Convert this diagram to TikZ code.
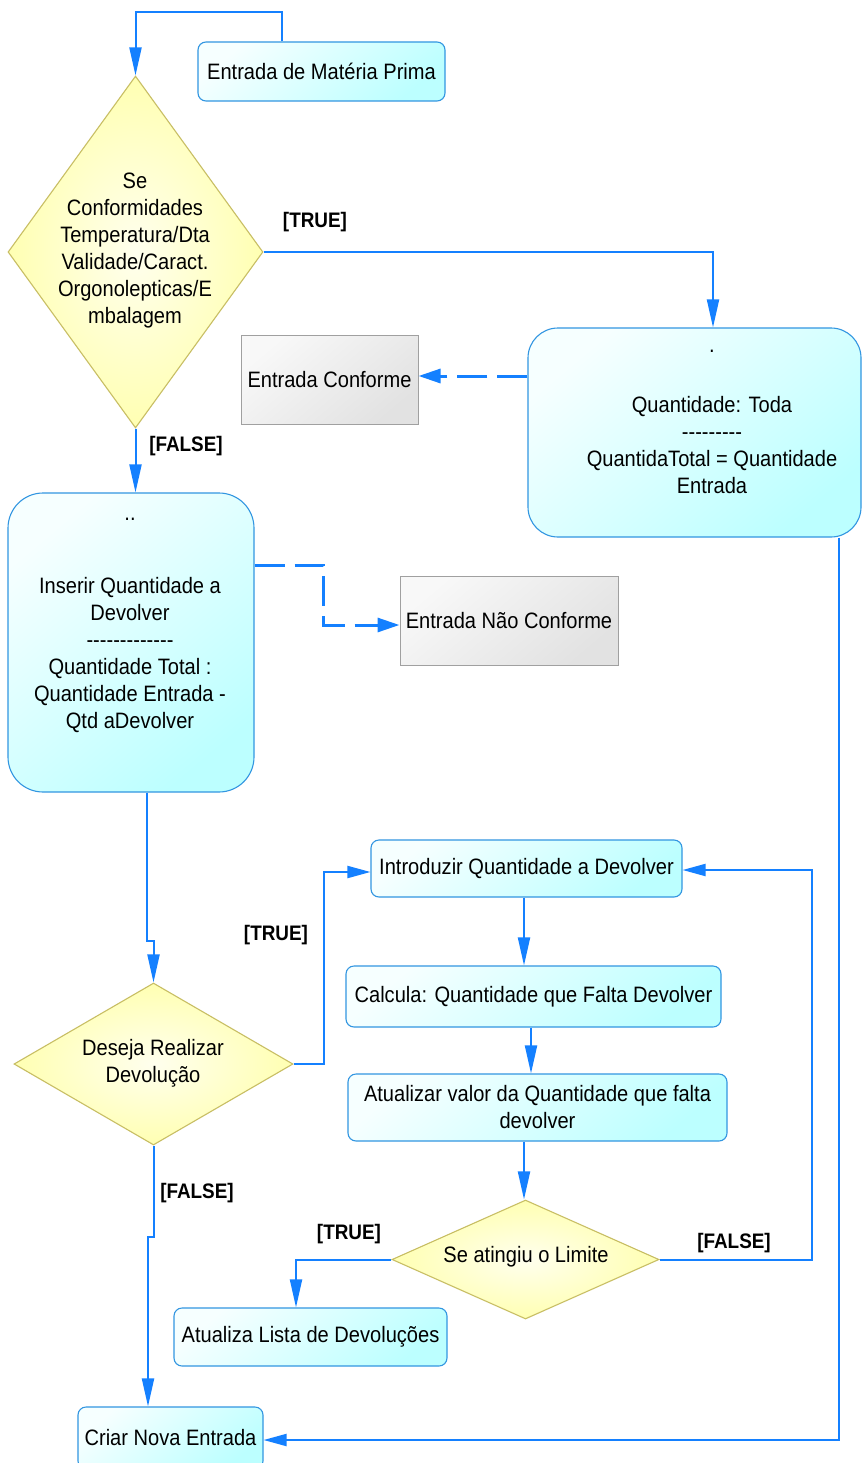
\documentclass[tikz,border=0pt]{standalone}
\usepackage{fontspec}
\setmainfont[FakeStretch=0.9]{Liberation Sans}
\usetikzlibrary{arrows.meta,shapes.geometric,calc}

\definecolor{flowblue}{RGB}{20,128,255}
\definecolor{boxline}{RGB}{50,150,225}
\definecolor{boxlight}{RGB}{246,255,255}
\definecolor{boxcyan}{RGB}{188,255,255}
\definecolor{decline}{RGB}{200,190,100}
\definecolor{decfill}{RGB}{255,255,178}
\definecolor{decin}{RGB}{255,255,238}
\definecolor{grayline}{RGB}{160,160,160}
\definecolor{graylight}{RGB}{248,248,248}
\definecolor{graydark}{RGB}{226,226,226}

\tikzset{
  actbox/.style={rectangle, rounded corners=8pt, draw=boxline, line width=1.1pt,
    top color=boxlight, bottom color=boxcyan, shading angle=40, inner sep=0pt,
    font=\fontsize{22.3}{27}\selectfont, align=center},
  graybox/.style={rectangle, draw=grayline, line width=1pt,
    top color=graylight, bottom color=graydark, shading angle=40, inner sep=0pt,
    font=\fontsize{22.3}{27}\selectfont, align=center},
  decision/.style={diamond, draw=decline, line width=1.1pt, inner color=decin,
    outer color=decfill, inner sep=0pt},
  txt/.style={inner sep=0pt, font=\fontsize{22.3}{27}\selectfont, align=center},
  lbl/.style={inner sep=0pt, font=\fontsize{21}{24}\selectfont\bfseries},
  flow/.style={draw=flowblue, line width=2pt, -{Triangle[length=28pt,width=12pt]}},
  hflow/.style={draw=flowblue, line width=2pt, -{Triangle[length=23pt,width=12pt]}},
  dflow/.style={draw=flowblue, line width=3pt, dash pattern=on 30pt off 10pt,
    -{Triangle[length=22pt,width=14pt]}},
}

\begin{document}
\begin{tikzpicture}[x=1pt,y=-1pt]
\useasboundingbox (0,0) rectangle (862,1463);
\clip (0,0) rectangle (862,1463);
\fill[white] (0,0) rectangle (862,1463);

% boxes and decisions
\node[actbox, minimum width=247pt, minimum height=59pt] (mp) at (321.5,71.5) {Entrada de Matéria Prima};

\node[decision, minimum width=255pt, minimum height=352pt] (d1) at (135.5,252) {};
\node[txt] (d1t) at (135,251) {Se\\Conformidades\\Temperatura/Dta\\Validade/Caract.\\Orgonolepticas/E\\mbalagem};

\node[actbox, rounded corners=30pt, minimum width=333pt, minimum height=209pt] (quant) at (694.5,432.5) {};
\node[txt] (quantt) at (712,422) {.\\[33pt]Quantidade: Toda\\-{}-{}-{}-{}-{}-{}-{}-{}-\\QuantidaTotal = Quantidade\\Entrada};

\node[graybox, minimum width=177pt, minimum height=89pt] (ec) at (329.5,379.5) {Entrada Conforme};

\node[actbox, rounded corners=35pt, minimum width=246pt, minimum height=299pt] (ins) at (131,642.5) {};
\node[txt] (inst) at (130,625) {..\\[46pt]Inserir Quantidade a\\Devolver\\-{}-{}-{}-{}-{}-{}-{}-{}-{}-{}-{}-{}-\\Quantidade Total :\\Quantidade Entrada -\\Qtd aDevolver};

\node[graybox, minimum width=218pt, minimum height=89pt] (enc) at (509,620.5) {Entrada Não Conforme};

\node[decision, minimum width=279pt, minimum height=162pt] (d2) at (153.5,1064) {};
\node[txt] (d2t) at (153,1063) {Deseja Realizar\\Devolução};

\node[actbox, minimum width=311pt, minimum height=57pt] (intro) at (526.5,868.5) {Introduzir Quantidade a Devolver};
\node[actbox, minimum width=375pt, minimum height=61pt] (calc) at (533.5,996.5) {Calcula: Quantidade que Falta Devolver};
\node[actbox, minimum width=379pt, minimum height=67pt] (atual) at (537.5,1107.5) {Atualizar valor da Quantidade que falta\\devolver};

\node[decision, minimum width=267pt, minimum height=119pt] (d3) at (525.5,1259.5) {};
\node[txt] (d3t) at (526,1257) {Se atingiu o Limite};

\node[actbox, minimum width=273pt, minimum height=58pt] (lista) at (310.5,1337) {Atualiza Lista de Devoluções};
\node[actbox, minimum width=185pt, minimum height=62pt] (criar) at (170.5,1438) {Criar Nova Entrada};

% guard labels
\node[lbl] (t1) at (315,222) {[TRUE]};
\node[lbl] (f1) at (186,446) {[FALSE]};
\node[lbl] (t2) at (276,935) {[TRUE]};
\node[lbl] (f2) at (197,1193) {[FALSE]};
\node[lbl] (t3) at (349,1234) {[TRUE]};
\node[lbl] (f3) at (734,1243) {[FALSE]};

% connectors
\draw[flow] ([xshift=-39.5pt]mp.north) -- ++(0,-29) -| (d1.north);
\draw[flow] (d1.east) -| ([xshift=18.5pt]quant.north);
\draw[dflow] ([yshift=56.5pt]quant.west) -- ([yshift=3.5pt]ec.east);
\draw[flow] (d1.south) -- (d1.south |- ins.north);
\draw[dflow] ([yshift=77.5pt]ins.east) -- ++(69,0) |- ([yshift=-4.5pt]enc.west);
\draw[flow] ([xshift=16pt]ins.south) -- ++(0,148) -| (d2.north);
\draw[hflow] (d2.east) -- ++(30,0) |- ([yshift=-3.5pt]intro.west);
\draw[flow] ([xshift=-2.5pt]intro.south) -- ([xshift=-2.5pt]intro.south |- calc.north);
\draw[flow] ([xshift=-2.5pt]calc.south) -- ([xshift=-2.5pt]calc.south |- atual.north);
\draw[flow] ([xshift=-1.5pt]d3.north |- atual.south) -- ([xshift=-1.5pt]d3.north);
\draw[flow] (d3.west) -| ([xshift=-14.5pt]lista.north);
\draw[hflow] (d3.east) -- ++(152,0) |- ([yshift=-1.5pt]intro.east);
\draw[flow] (d2.south) -- ++(0,91) -| ([xshift=-22.5pt]criar.north);
\draw[hflow] ([xshift=144.5pt]quant.south) |- ([yshift=-2pt]criar.east);
\end{tikzpicture}
\end{document}
